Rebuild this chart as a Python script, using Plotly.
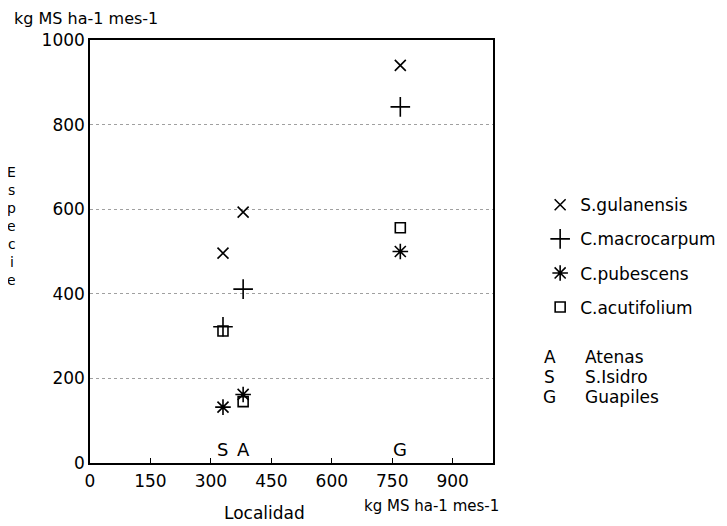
import plotly.graph_objects as go

# ---- data ----
localities = ["Atenas", "S.Isidro", "Guapiles"]
locality_codes = ["A", "S", "G"]
locality_x = [380, 330, 770]  # kg MS ha-1 mes-1 (x position)

species = ["S.gulanensis", "C.macrocarpum", "C.pubescens", "C.acutifolium"]
# values listed in locality order: Atenas, S.Isidro, Guapiles
s_gulanensis = [593, 496, 940]
c_macrocarpum = [411, 322, 842]
c_pubescens = [162, 132, 500]
c_acutifolium = [145, 312, 556]

x_ticks = [0, 150, 300, 450, 600, 750, 900]
y_ticks = [0, 200, 400, 600, 800, 1000]

FONT = "DejaVu Sans, Verdana, sans-serif"
series = [s_gulanensis, c_macrocarpum, c_pubescens, c_acutifolium]
symbols = ["x-thin-open", "cross-thin-open", "asterisk-open", "square-open"]
sizes = [11, 14, 13, 10]

fig = go.Figure()
for i, (name, vals) in enumerate(zip(species, series)):
    fig.add_trace(go.Scatter(
        x=locality_x, y=vals, mode="markers", name=name,
        legendgroup=name,
        marker=dict(symbol=symbols[i], size=sizes[i], color="black",
                    line=dict(color="black", width=1.6)),
    ))

# locality letters above the x axis
for code, xv in zip(locality_codes, locality_x):
    fig.add_annotation(x=xv, y=0, xref="x", yref="y", text=code,
                       showarrow=False, yanchor="bottom", yshift=1,
                       font=dict(size=18, color="black", family=FONT))

# locality legend
for i, (code, name) in enumerate(zip(locality_codes, localities)):
    yp = 0.251 - i * 0.047
    fig.add_annotation(x=1.141, y=yp, xref="paper", yref="paper", text=code,
                       showarrow=False, xanchor="center", yanchor="middle",
                       font=dict(size=17, color="black", family=FONT))
    fig.add_annotation(x=1.223, y=yp, xref="paper", yref="paper", text=name,
                       showarrow=False, xanchor="left", yanchor="middle",
                       font=dict(size=17, color="black", family=FONT))

# titles
fig.add_annotation(x=-0.194, y=1.05, xref="paper", yref="paper",
                   text="kg MS ha-1 mes-1", showarrow=False,
                   xanchor="left", yanchor="middle",
                   font=dict(size=16, color="black", family=FONT))
fig.add_annotation(x=0.675, y=-0.101, xref="paper", yref="paper",
                   text="kg MS ha-1 mes-1", showarrow=False,
                   xanchor="left", yanchor="middle",
                   font=dict(size=15, color="black", family=FONT))
fig.add_annotation(x=0.434, y=-0.118, xref="paper", yref="paper",
                   text="Localidad", showarrow=False,
                   xanchor="center", yanchor="middle",
                   font=dict(size=17, color="black", family=FONT))
for i, ch in enumerate("Especie"):
    fig.add_annotation(x=-0.194, y=(463 - (172 + 18 * i)) / 423,
                       xref="paper", yref="paper", text=ch, showarrow=False,
                       xanchor="center", yanchor="middle", height=16,
                       font=dict(size=14, color="black", family=FONT))

fig.update_xaxes(range=[0, 1000], tickvals=x_ticks, ticks="inside", ticklen=5,
                 tickcolor="black", showline=True, linecolor="black",
                 linewidth=1.5, mirror=True, showgrid=False, zeroline=False,
                 ticklabelstandoff=2,
                 tickfont=dict(size=17, color="black", family=FONT))
fig.update_yaxes(range=[0, 1000], tickvals=y_ticks, ticks="inside", ticklen=0,
                 showline=True, linecolor="black", linewidth=1.5, mirror=True,
                 showgrid=True, gridcolor="#a0a0a0", griddash="dot", gridwidth=1,
                 zeroline=False,
                 tickfont=dict(size=17, color="black", family=FONT))

fig.update_layout(
    width=727, height=526,
    margin=dict(l=82, r=242, t=32, b=71),
    paper_bgcolor="white", plot_bgcolor="white",
    font=dict(family=FONT, color="black"),
    showlegend=True,
    legend=dict(x=1.117, y=0.652, xanchor="left", yanchor="top",
                tracegroupgap=9, font=dict(size=17, color="black", family=FONT),
                bgcolor="rgba(0,0,0,0)"),
)

fig.write_html("out.html")
